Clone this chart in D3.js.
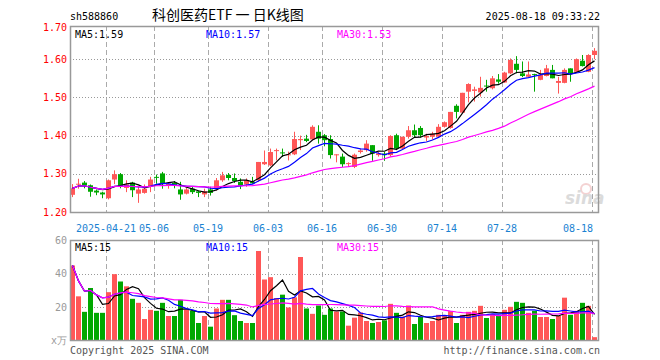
<!DOCTYPE html>
<html>
<head>
<meta charset="utf-8">
<script src="https://cdn.jsdelivr.net/npm/d3@7/dist/d3.min.js"></script>
<style>
  body { margin: 0; background: #fff; }
</style>
</head>
<body>
<div id="kline"></div>
<script>
// ---- data ----
const dates = [
  "2025-04-11","2025-04-14","2025-04-15","2025-04-16","2025-04-17","2025-04-18","2025-04-21","2025-04-22","2025-04-23","2025-04-24",
  "2025-04-25","2025-04-28","2025-04-29","2025-04-30","2025-05-06","2025-05-07","2025-05-08","2025-05-09","2025-05-12","2025-05-13",
  "2025-05-14","2025-05-15","2025-05-16","2025-05-19","2025-05-20","2025-05-21","2025-05-22","2025-05-23","2025-05-26","2025-05-27",
  "2025-05-28","2025-05-29","2025-05-30","2025-06-03","2025-06-04","2025-06-05","2025-06-06","2025-06-09","2025-06-10","2025-06-11",
  "2025-06-12","2025-06-13","2025-06-16","2025-06-17","2025-06-18","2025-06-19","2025-06-20","2025-06-23","2025-06-24","2025-06-25",
  "2025-06-26","2025-06-27","2025-06-30","2025-07-01","2025-07-02","2025-07-03","2025-07-04","2025-07-07","2025-07-08","2025-07-09",
  "2025-07-10","2025-07-11","2025-07-14","2025-07-15","2025-07-16","2025-07-17","2025-07-18","2025-07-21","2025-07-22","2025-07-23",
  "2025-07-24","2025-07-25","2025-07-28","2025-07-29","2025-07-30","2025-07-31","2025-08-01","2025-08-04","2025-08-05","2025-08-06",
  "2025-08-07","2025-08-08","2025-08-11","2025-08-12","2025-08-13","2025-08-14","2025-08-15","2025-08-18"
];

const opens = [
  1.245,1.273,1.277,1.270,1.256,1.251,1.236,1.285,1.299,1.263,
  1.277,1.248,1.250,1.268,1.292,1.301,1.268,1.276,1.259,1.248,
  1.261,1.254,1.246,1.259,1.261,1.283,1.297,1.289,1.279,1.272,
  1.279,1.283,1.325,1.322,1.360,1.356,1.349,1.351,1.388,1.392,
  1.390,1.410,1.401,1.391,1.349,1.345,1.326,1.318,1.357,1.362,
  1.375,1.349,1.353,1.349,1.401,1.366,1.397,1.414,1.420,1.395,
  1.397,1.397,1.423,1.420,1.478,1.460,1.515,1.517,1.513,1.531,
  1.524,1.547,1.539,1.563,1.588,1.563,1.554,1.561,1.546,1.556,
  1.572,1.538,1.538,1.576,1.567,1.596,1.567,1.611
];
const highs = [
  1.273,1.287,1.281,1.272,1.259,1.253,1.285,1.309,1.302,1.283,
  1.279,1.266,1.272,1.292,1.298,1.305,1.278,1.281,1.279,1.263,
  1.266,1.256,1.261,1.266,1.289,1.305,1.302,1.301,1.288,1.288,
  1.292,1.331,1.361,1.366,1.366,1.366,1.358,1.410,1.400,1.402,
  1.427,1.427,1.404,1.401,1.351,1.353,1.330,1.353,1.366,1.388,
  1.375,1.357,1.357,1.401,1.405,1.397,1.425,1.429,1.425,1.405,
  1.410,1.430,1.437,1.462,1.482,1.512,1.537,1.528,1.554,1.546,
  1.556,1.561,1.567,1.602,1.608,1.594,1.594,1.562,1.572,1.585,
  1.585,1.554,1.576,1.576,1.602,1.611,1.613,1.629
];
const lows = [
  1.239,1.261,1.262,1.240,1.244,1.236,1.233,1.273,1.262,1.252,
  1.239,1.224,1.248,1.252,1.274,1.261,1.261,1.262,1.232,1.246,
  1.247,1.239,1.239,1.243,1.256,1.279,1.283,1.276,1.260,1.266,
  1.274,1.279,1.323,1.320,1.335,1.344,1.335,1.349,1.362,1.383,
  1.388,1.379,1.372,1.340,1.330,1.318,1.318,1.315,1.353,1.358,
  1.334,1.345,1.334,1.345,1.362,1.364,1.392,1.395,1.395,1.385,
  1.390,1.395,1.421,1.418,1.445,1.459,1.487,1.489,1.502,1.515,
  1.521,1.536,1.538,1.561,1.563,1.553,1.553,1.515,1.545,1.555,
  1.550,1.510,1.537,1.541,1.566,1.581,1.566,1.600
];
const closes = [
  1.262,1.274,1.270,1.253,1.251,1.246,1.283,1.299,1.268,1.272,
  1.257,1.259,1.261,1.285,1.291,1.274,1.274,1.271,1.246,1.259,
  1.252,1.250,1.254,1.250,1.283,1.296,1.289,1.281,1.268,1.283,
  1.275,1.331,1.331,1.357,1.362,1.354,1.351,1.391,1.391,1.386,
  1.423,1.392,1.388,1.349,1.351,1.325,1.328,1.350,1.361,1.379,
  1.353,1.353,1.349,1.399,1.366,1.397,1.414,1.401,1.401,1.399,
  1.405,1.423,1.435,1.462,1.462,1.512,1.535,1.521,1.525,1.529,
  1.550,1.541,1.565,1.598,1.572,1.556,1.560,1.559,1.559,1.576,
  1.550,1.543,1.572,1.563,1.600,1.582,1.611,1.622
];
// volume, x万
const volumes = [
  45,26.5,17.2,31.5,16.6,16.6,29,39.8,35.4,32.5,
  25,22.6,12.9,18.4,17.8,22.6,14.7,14.7,24.4,18.4,
  17.8,10.5,14.7,8.3,19.2,24.4,24.4,15.2,11.7,10.5,
  10.5,53.7,36.6,38,25.5,27.5,19.8,25.9,50.1,19.2,
  16,21,15.4,19.2,17.4,17.4,8.9,13.7,16.8,11.7,
  10.5,11.1,12.1,22,16.6,14.3,21,9.9,14.1,10.5,
  11.7,15.4,15.2,17.6,10.5,15.4,17.2,17.8,20.8,13.5,
  15.8,14.7,18.4,20.2,23.2,22.6,16.6,17.8,14.1,14.1,
  12.9,14.7,25.7,15.4,17.8,22.6,20.8,2
];

const tickDates = ["2025-04-21","2025-05-06","2025-05-19","2025-06-03","2025-06-16","2025-06-30","2025-07-14","2025-07-28","2025-08-18"];
const tickLabels = ["2025-04-21","05-06","05-19","06-03","06-16","06-30","07-14","07-28","08-18"];
const priceTicks = [1.2, 1.3, 1.4, 1.5, 1.6, 1.7];
const volTicks = [20, 40, 60];
const maPeriods = [5, 10, 30];
const priceMaText = ["MA5:1.59", "MA10:1.57", "MA30:1.53"];
const volMaText = ["MA5:15", "MA10:15", "MA30:15"];

// ---- chart ----
const width = 660, height = 360;
const left = 70, right = 598;
const mainTop = 26, mainBottom = 212;
const volTop = 240, volBottom = 340;
const mono = "'DejaVu Sans Mono', 'Liberation Mono', monospace";
const red = "#ff5757", green = "#00a800";
const maColors = ["#000000", "#0000ff", "#ff00ff"];

const svg = d3.select("#kline").append("svg")
  .attr("width", width)
  .attr("height", height)
  .style("font-family", mono)
  .style("font-size", "10px");

svg.append("rect").attr("width", width).attr("height", height).attr("fill", "#fff");

const x = d3.scaleBand().domain(dates).range([left, right]);
const y = d3.scaleLinear().domain([1.2, 1.7]).range([212, 21]);
const yv = d3.scaleLinear().domain([0, 60]).range([340.5, 240.5]);

const bars = dates.map((d, i) => ({
  date: d, o: opens[i], h: highs[i], l: lows[i], c: closes[i], v: volumes[i]
}));

function movingAvg(arr, n) {
  return arr.map((_, i) => d3.mean(arr.slice(Math.max(0, i - n + 1), i + 1)));
}

// grids
const grid = svg.append("g");
[[mainTop, mainBottom], [volTop, volBottom]].forEach(([t, b]) => {
  grid.selectAll(null)
    .data(tickDates)
    .enter()
    .append("line")
    .attr("x1", d => x(d) + 0.5)
    .attr("x2", d => x(d) + 0.5)
    .attr("y1", t)
    .attr("y2", b)
    .attr("stroke", "#aaa")
    .attr("stroke-dasharray", "5,3");
});
grid.selectAll(null)
  .data([1.3, 1.4, 1.5, 1.6])
  .enter()
  .append("line")
  .attr("x1", left).attr("x2", right)
  .attr("y1", d => Math.round(y(d)) + 0.5)
  .attr("y2", d => Math.round(y(d)) + 0.5)
  .attr("stroke", "#999")
  .attr("stroke-dasharray", "1,2");
grid.selectAll(null)
  .data([20, 40])
  .enter()
  .append("line")
  .attr("x1", left).attr("x2", right)
  .attr("y1", d => Math.round(yv(d)) + 0.5)
  .attr("y2", d => Math.round(yv(d)) + 0.5)
  .attr("stroke", "#999")
  .attr("stroke-dasharray", "1,2");

// candles
const candle = svg.append("g")
  .selectAll("g")
  .data(bars)
  .enter()
  .append("g");
candle.append("line")
  .attr("x1", d => x(d.date) + 2.5)
  .attr("x2", d => x(d.date) + 2.5)
  .attr("y1", d => y(d.h))
  .attr("y2", d => y(d.l))
  .attr("stroke", d => d.c >= d.o ? red : green);
candle.append("rect")
  .attr("x", d => x(d.date))
  .attr("width", 5)
  .attr("y", d => y(Math.max(d.o, d.c)))
  .attr("height", d => Math.max(1, Math.abs(y(d.o) - y(d.c))))
  .attr("fill", d => d.c >= d.o ? red : green);

// volume bars
svg.append("g")
  .selectAll("rect")
  .data(bars)
  .enter()
  .append("rect")
  .attr("x", d => x(d.date))
  .attr("width", 5)
  .attr("y", d => yv(d.v))
  .attr("height", d => yv(0) - yv(d.v))
  .attr("fill", d => d.c >= d.o ? red : green);

// moving averages
const cx = i => x(dates[i]) + 2.5;
maPeriods.forEach((n, k) => {
  const pm = movingAvg(closes, n);
  svg.append("path")
    .datum(pm)
    .attr("fill", "none")
    .attr("stroke", maColors[k])
    .attr("stroke-width", 1.2)
    .attr("d", d3.line().x((d, i) => cx(i)).y(d => y(d)));
  const vm = movingAvg(volumes, n);
  svg.append("path")
    .datum(vm)
    .attr("fill", "none")
    .attr("stroke", maColors[k])
    .attr("stroke-width", 1.2)
    .attr("d", d3.line().x((d, i) => cx(i)).y(d => yv(d)));
});

// watermark
const wm = svg.append("g").attr("opacity", 0.35);
wm.append("circle").attr("cx", 586).attr("cy", 189).attr("r", 5)
  .attr("fill", "none").attr("stroke", "#e08080").attr("stroke-width", 2);
wm.append("text").attr("x", 565).attr("y", 204)
  .attr("font-family", "'DejaVu Sans', sans-serif")
  .attr("font-style", "italic").attr("font-weight", "bold")
  .attr("font-size", 17).attr("fill", "#999").text("sina");

// frames
[[mainTop, mainBottom], [volTop, volBottom]].forEach(([t, b]) => {
  svg.append("rect")
    .attr("x", left + 0.5).attr("y", t + 0.5)
    .attr("width", right - left).attr("height", b - t)
    .attr("fill", "none").attr("stroke", "#999").attr("stroke-width", 1.5);
});

// price axis labels
svg.append("g")
  .selectAll("text")
  .data(priceTicks)
  .enter()
  .append("text")
  .attr("x", 67)
  .attr("y", d => Math.max(y(d), mainTop + 1))
  .attr("dy", "0.35em")
  .attr("text-anchor", "end")
  .attr("fill", "#f00")
  .text(d => d.toFixed(2));

// volume axis labels
svg.append("g")
  .selectAll("text")
  .data(volTicks)
  .enter()
  .append("text")
  .attr("x", 67)
  .attr("y", d => yv(d))
  .attr("dy", "0.35em")
  .attr("text-anchor", "end")
  .attr("fill", "#999")
  .text(d => d);
svg.append("text").attr("x", 67).attr("y", volBottom).attr("dy", "0.35em")
  .attr("text-anchor", "end").attr("fill", "#999").text("x万");

// date labels
svg.append("g")
  .selectAll("text")
  .data(tickDates)
  .enter()
  .append("text")
  .attr("x", (d, i) => i === tickDates.length - 1 ? x(d) + 1 : x(d))
  .attr("y", 228)
  .attr("dy", "0.35em")
  .attr("text-anchor", (d, i) => i === tickDates.length - 1 ? "end" : "middle")
  .attr("fill", "#1a82d2")
  .text((d, i) => tickLabels[i]);

// MA legends
const legendX = [75, 206, 337];
priceMaText.forEach((t, k) => {
  svg.append("text").attr("x", legendX[k]).attr("y", 34).attr("dy", "0.35em")
    .attr("fill", maColors[k]).text(t);
});
volMaText.forEach((t, k) => {
  svg.append("text").attr("x", legendX[k]).attr("y", 247).attr("dy", "0.35em")
    .attr("fill", maColors[k]).text(t);
});

// header and footer
svg.append("text").attr("x", 70).attr("y", 16).attr("dy", "0.35em").text("sh588860");
svg.append("text").attr("x", 152).attr("y", 15).attr("dy", "0.35em")
  .attr("font-family", "'Noto Sans CJK SC', sans-serif").attr("font-size", 14)
  .text("科创医药ETF 一 日K线图");
svg.append("text").attr("x", 600).attr("y", 16).attr("dy", "0.35em")
  .attr("text-anchor", "end").text("2025-08-18 09:33:22");
svg.append("text").attr("x", 70).attr("y", 350).attr("dy", "0.35em")
  .attr("fill", "#555").text("Copyright 2025 SINA.COM");
svg.append("text").attr("x", 600).attr("y", 350).attr("dy", "0.35em")
  .attr("text-anchor", "end").attr("fill", "#555").text("http://finance.sina.com.cn");
</script>
</body>
</html>
